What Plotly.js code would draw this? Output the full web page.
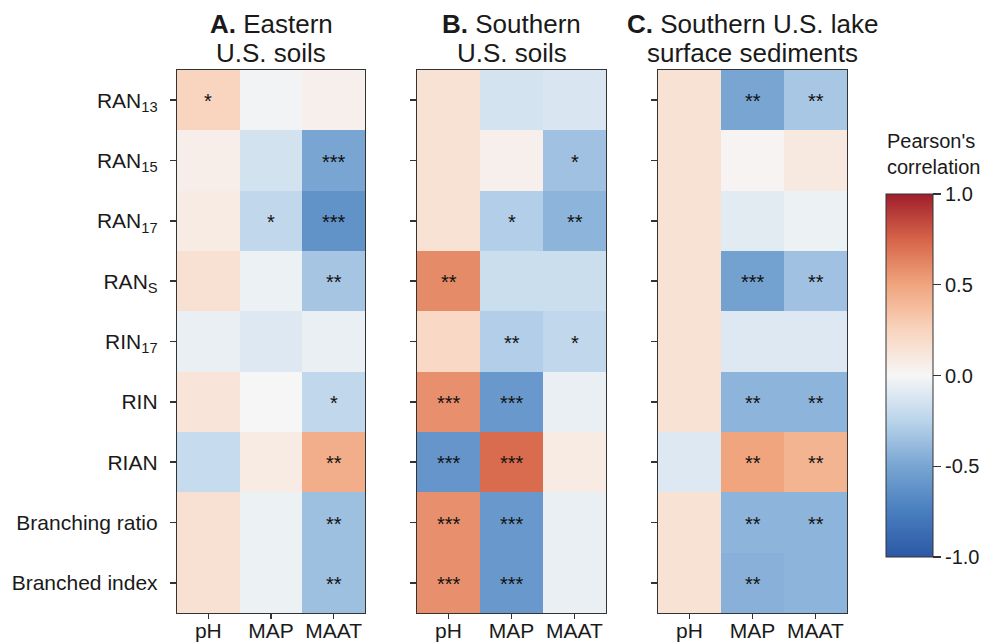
<!DOCTYPE html>
<html>
<head>
<meta charset="utf-8">
<script src="https://cdn.plot.ly/plotly-3.0.1.min.js"></script>
<style>
  html, body { margin: 0; padding: 0; background: #ffffff; }
  #chart { width: 989px; height: 644px; }
</style>
</head>
<body>
<div id="chart"></div>
<script>
// Correlation of branched GDGT-style indices with environmental variables
const indices = ["RAN<sub>13</sub>", "RAN<sub>15</sub>", "RAN<sub>17</sub>", "RAN<sub>S</sub>",
                 "RIN<sub>17</sub>", "RIN", "RIAN", "Branching ratio", "Branched index"];
const variables = ["pH", "MAP", "MAAT"];

// A. Eastern U.S. soils  (columns: pH, MAP, MAAT)
const eastR = [
  [0.25, -0.02, 0.05],
  [0.06, -0.15, -0.50],
  [0.08, -0.22, -0.62],
  [0.16, -0.04, -0.33],
  [-0.05, -0.10, -0.05],
  [0.13, 0.00, -0.22],
  [-0.20, 0.08, 0.45],
  [0.16, -0.04, -0.36],
  [0.16, -0.04, -0.36]
];
const eastSig = [
  ["*", "", ""],
  ["", "", "***"],
  ["", "*", "***"],
  ["", "", "**"],
  ["", "", ""],
  ["", "", "*"],
  ["", "", "**"],
  ["", "", "**"],
  ["", "", "**"]
];

// B. Southern U.S. soils
const southR = [
  [0.15, -0.14, -0.12],
  [0.15, 0.05, -0.35],
  [0.15, -0.28, -0.42],
  [0.60, -0.18, -0.18],
  [0.22, -0.28, -0.22],
  [0.58, -0.58, -0.05],
  [-0.60, 0.72, 0.08],
  [0.58, -0.58, -0.05],
  [0.58, -0.58, -0.05]
];
const southSig = [
  ["", "", ""],
  ["", "", "*"],
  ["", "*", "**"],
  ["**", "", ""],
  ["", "**", "*"],
  ["***", "***", ""],
  ["***", "***", ""],
  ["***", "***", ""],
  ["***", "***", ""]
];

// C. Southern U.S. lake surface sediments
const lakeR = [
  [0.15, -0.50, -0.32],
  [0.15, 0.02, 0.10],
  [0.15, -0.08, -0.04],
  [0.15, -0.52, -0.35],
  [0.15, -0.10, -0.10],
  [0.15, -0.42, -0.42],
  [-0.10, 0.50, 0.42],
  [0.15, -0.42, -0.42],
  [0.15, -0.44, -0.42]
];
const lakeSig = [
  ["", "**", "**"],
  ["", "", ""],
  ["", "", ""],
  ["", "***", "**"],
  ["", "", ""],
  ["", "**", "**"],
  ["", "**", "**"],
  ["", "**", "**"],
  ["", "**", ""]
];

const cbTicks = [-1, -0.5, 0, 0.5, 1];
const cbTickText = ["-1.0", "-0.5", "0.0", "0.5", "1.0"];

const FONT = "Liberation Sans, Arial, sans-serif";
const INK = "#1a1a1a";

// Diverging blue-white-red scale
const divScale = [
  [0.000, "rgb(44,88,166)"],
  [0.125, "rgb(72,126,190)"],
  [0.250, "rgb(120,165,210)"],
  [0.375, "rgb(186,212,235)"],
  [0.500, "rgb(246,246,246)"],
  [0.625, "rgb(249,212,190)"],
  [0.750, "rgb(240,165,126)"],
  [0.875, "rgb(214,100,72)"],
  [1.000, "rgb(160,30,45)"]
];

const panels = [
  { z: eastR, sig: eastSig, xa: "x", ya: "y", dom: [177, 365],
    t1: "<b>A.</b> Eastern", t2: "U.S. soils" },
  { z: southR, sig: southSig, xa: "x2", ya: "y2", dom: [417, 606],
    t1: "<b>B.</b> Southern", t2: "U.S. soils" },
  { z: lakeR, sig: lakeSig, xa: "x3", ya: "y3", dom: [658, 847],
    t1: "<b>C.</b> Southern U.S. lake", t2: "surface sediments" }
];

const W = 989, H = 644;
const yTop = 70, yBot = 613;
const px = v => v / W;
const py = v => 1 - v / H;

const data = [];
const annotations = [];
const layout = {
  width: W, height: H,
  margin: { l: 0, r: 0, t: 0, b: 0 },
  paper_bgcolor: "#ffffff",
  plot_bgcolor: "#ffffff",
  font: { family: FONT, color: INK, size: 20 },
  showlegend: false
};

panels.forEach((p, i) => {
  const sfx = i === 0 ? "" : String(i + 1);
  data.push({
    type: "heatmap",
    x: variables,
    y: indices,
    z: p.z,
    xaxis: p.xa,
    yaxis: p.ya,
    zmin: -1, zmax: 1,
    colorscale: divScale,
    xgap: 0, ygap: 0,
    hoverinfo: "skip",
    showscale: i === 2,
    colorbar: {
      x: px(886), xanchor: "left", xpad: 0,
      y: py((194 + 557) / 2), yanchor: "middle", ypad: 0,
      len: 363, lenmode: "pixels",
      thickness: 47, thicknessmode: "pixels",
      outlinewidth: 1, outlinecolor: "#333",
      tickmode: "array", tickvals: cbTicks, ticktext: cbTickText,
      ticks: "outside", ticklen: 8, tickwidth: 1.2, tickcolor: "#333",
      tickfont: { family: FONT, size: 20, color: INK }
    }
  });

  layout["xaxis" + sfx] = {
    domain: [px(p.dom[0]), px(p.dom[1])],
    anchor: p.ya,
    type: "category",
    showgrid: false, zeroline: false,
    showline: true, linecolor: "#333", linewidth: 1.2, mirror: true,
    ticks: "outside", ticklen: 5, tickwidth: 1.4, tickcolor: "#333",
    ticklabelstandoff: -6,
    tickfont: { family: FONT, size: 21, color: INK },
    fixedrange: true
  };
  layout["yaxis" + sfx] = {
    domain: [py(yBot), py(yTop)],
    anchor: p.xa,
    type: "category",
    autorange: "reversed",
    showgrid: false, zeroline: false,
    showline: true, linecolor: "#333", linewidth: 1.2, mirror: true,
    ticks: "outside", ticklen: 6, tickwidth: 1.4, tickcolor: "#333",
    showticklabels: i === 0,
    ticklabelstandoff: 8,
    tickfont: { family: FONT, size: 21, color: INK },
    fixedrange: true
  };

  // significance marks, placed on the heatmap's own category scales
  p.sig.forEach((row, r) => {
    row.forEach((s, c) => {
      if (!s) return;
      annotations.push({
        xref: p.xa, yref: p.ya,
        x: variables[c], y: indices[r],
        text: s, showarrow: false,
        xanchor: "center", yanchor: "middle", yshift: -1,
        font: { family: FONT, size: 20, color: "#111" }
      });
    });
  });

  // two-line panel heading
  const cx = px((p.dom[0] + p.dom[1]) / 2);
  annotations.push({
    xref: "paper", yref: "paper", x: cx, y: py(24),
    text: p.t1, showarrow: false, xanchor: "center", yanchor: "middle",
    font: { family: FONT, size: 26, color: INK }
  });
  annotations.push({
    xref: "paper", yref: "paper", x: cx, y: py(53),
    text: p.t2, showarrow: false, xanchor: "center", yanchor: "middle",
    font: { family: FONT, size: 26, color: INK }
  });
});

// colour bar heading
annotations.push({
  xref: "paper", yref: "paper", x: px(885), y: py(180),
  text: "Pearson's<br>correlation", showarrow: false,
  xanchor: "left", yanchor: "bottom", align: "left",
  font: { family: FONT, size: 20, color: INK }
});

layout.annotations = annotations;

Plotly.newPlot("chart", data, layout, { displayModeBar: false, staticPlot: true });
</script>
</body>
</html>
